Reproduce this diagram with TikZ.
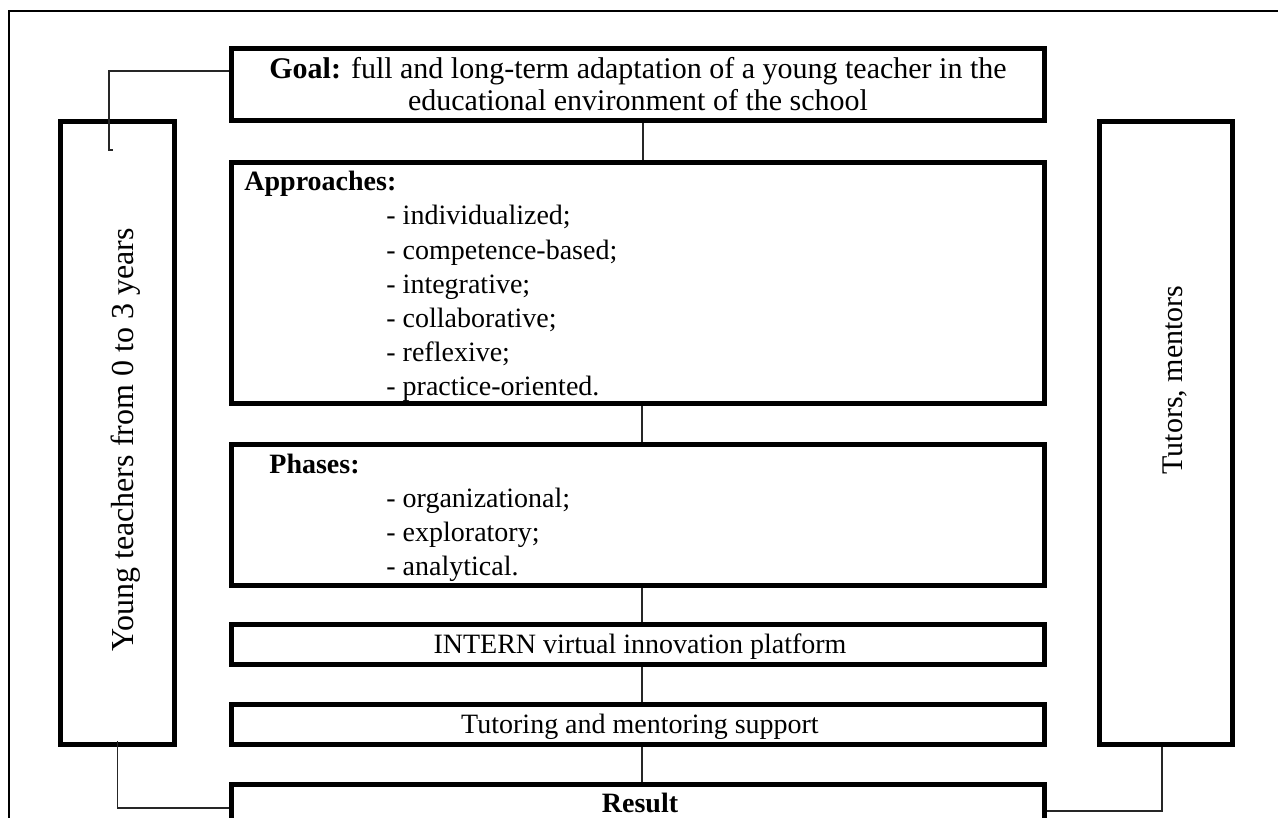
\documentclass[tikz,border=0pt]{standalone}
\usepackage{fontspec}
\setmainfont{Liberation Serif}
\begin{document}
\begin{tikzpicture}[x=0.5pt,y=-0.5pt,
  box/.style={draw, line width=2.5pt, rectangle, inner sep=0pt},
  txt/.style={inner sep=0pt, font=\fontsize{14}{16.8}\selectfont},
  bigtxt/.style={inner sep=0pt, font=\fontsize{15}{17}\selectfont},
  conn/.style={line width=0.8pt, black!85},
  frameline/.style={line width=1pt}]
\useasboundingbox (0,0) rectangle (1278,818);
\clip (0,0) rectangle (1278,818);
% outer frame (page crop)
\draw[frameline] (9,818) -- (9,11) -- (1278,11);
% boxes
\node[box, minimum width=406.5pt, minimum height=36pt] (goal) at (638,85) {};
\node[box, minimum width=406.5pt, minimum height=120.25pt] (appr) at (638,282.75) {};
\node[box, minimum width=406.5pt, minimum height=70.5pt] (phases) at (638,515) {};
\node[box, minimum width=406.5pt, minimum height=20pt] (intern) at (638,644.5) {};
\node[box, minimum width=406.5pt, minimum height=20pt] (tutor) at (638,724.5) {};
\node[box, minimum width=406.5pt, minimum height=23.5pt] (result) at (638,808) {};
\node[box, minimum width=57pt, minimum height=311.5pt] (ybox) at (117.5,433) {};
\node[box, minimum width=66.5pt, minimum height=311.5pt] (tbox) at (1166,433) {};
% texts
\node[bigtxt, anchor=base] (goalA) at (638,79) {\textbf{Goal:} full and long-term adaptation of a young teacher in the};
\node[bigtxt, anchor=base] (goalB) at (638,111) {educational environment of the school};
\node[txt, anchor=base west] (apph) at (244,191) {\textbf{Approaches:}};
\foreach \t [count=\i] in {- individualized;, - competence-based;, - integrative;, - collaborative;, - reflexive;, - practice-oriented.}
  \node[txt, anchor=base west] (appi\i) at (386,191+34*\i) {\t};
\node[txt, anchor=base west] (phh) at (269,473) {\textbf{Phases:}};
\foreach \t [count=\i] in {- organizational;, - exploratory;, - analytical.}
  \node[txt, anchor=base west] (phi\i) at (386,473+34*\i) {\t};
\node[txt, anchor=base] (interntxt) at (640,653.5) {INTERN virtual innovation platform};
\node[txt, anchor=base] (tutortxt) at (640,733.5) {Tutoring and mentoring support};
\node[txt, anchor=base] (resulttxt) at (640,812) {\textbf{Result}};
\node[bigtxt, rotate=90, font=\fontsize{16}{18}\selectfont] (ytxt) at (126,440) {Young teachers from 0 to 3 years};
\node[bigtxt, rotate=90, font=\fontsize{15}{18}\selectfont] (ttxt) at (1175,380) {Tutors, mentors};
% connectors
\draw[conn] ([xshift=2.5pt]goal.south) -- ([xshift=2.5pt]appr.north);
\draw[conn] ([xshift=2pt]appr.south) -- ([xshift=2pt]phases.north);
\draw[conn] ([xshift=2pt]phases.south) -- ([xshift=2pt]intern.north);
\draw[conn] ([xshift=2pt]intern.south) -- ([xshift=2pt]tutor.north);
\draw[conn] ([xshift=2pt]tutor.south) -- ([xshift=2pt]result.north);
\coordinate (lfoot) at (109,150);
\draw[conn] ([yshift=7pt]goal.west) -| (lfoot) -- ++(4,0);
\draw[conn] ([yshift=3pt]ybox.south) |- (result.west);
\draw[conn] ([xshift=-2pt]tbox.south) |- ([yshift=-1.5pt]result.east);
\end{tikzpicture}
\end{document}
